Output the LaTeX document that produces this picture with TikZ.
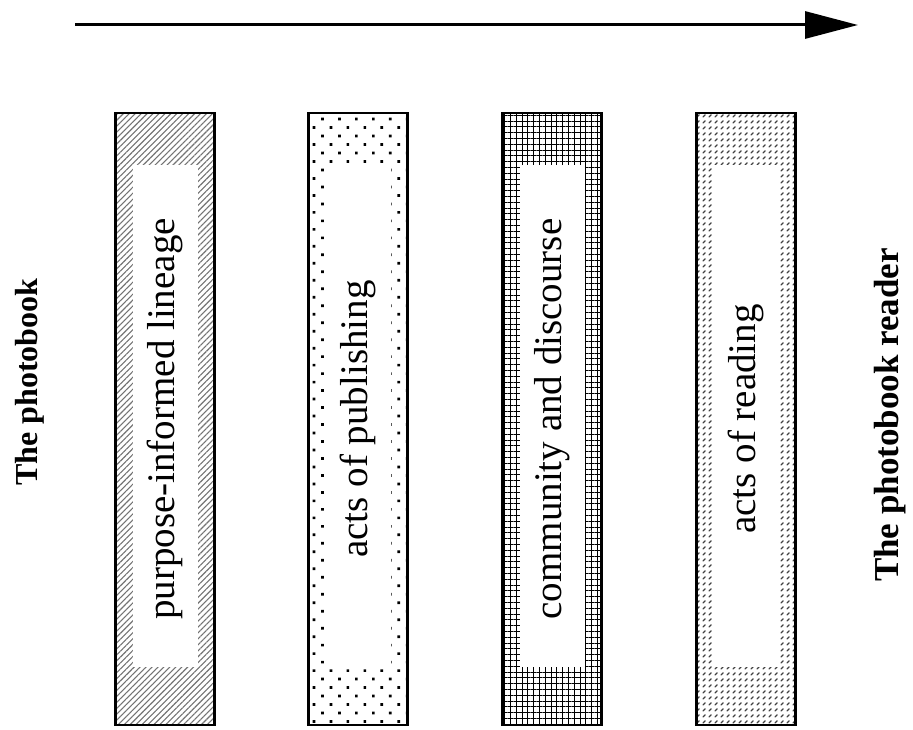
\documentclass[tikz,border=0pt]{standalone}
\usepackage{fontspec}
\setmainfont{Liberation Serif}
\usetikzlibrary{arrows.meta,patterns.meta}

% short diagonal strokes used for the last stage
\tikzdeclarepattern{
  name=slashes,
  type=uncolored,
  bounding box={(0,0) and (6pt,6pt)},
  tile size={(6pt,6pt)},
  code={\draw[line width=1.5pt,line cap=round] (1.2pt,1.2pt) -- (3.8pt,3.8pt);}
}

\begin{document}
\begin{tikzpicture}[x=1pt,y=-1pt,
  stage/.style={draw=black,line width=2.4pt,minimum width=99pt,minimum height=612pt,inner sep=0pt,
    path picture={\fill[white]
      ([xshift=17pt,yshift=-52pt]path picture bounding box.north west) rectangle
      ([xshift=-17pt,yshift=58pt]path picture bounding box.south east);}},
  stagelabel/.style={rotate=90,font=\fontsize{39}{39}\selectfont,inner sep=0pt},
  sidelabel/.style={rotate=90,font=\bfseries,inner sep=0pt},
  flow/.style={line width=3pt,-{Triangle[length=53pt,width=27pt]}}]
\useasboundingbox (0,0) rectangle (913,730);

% direction of reading
\coordinate (flowstart) at (75,25);
\coordinate (flowend) at (858,25);
\draw[flow] (flowstart) -- (flowend);

% end points
\node[sidelabel,font=\bfseries\fontsize{32}{32}\selectfont] (book) at (30,382) {The photobook};
\node[sidelabel,font=\bfseries\fontsize{35}{35}\selectfont] (reader) at (890,415) {The photobook reader};

% the four stages
\node[stage,pattern={Lines[angle=45,distance=4.2pt,line width=1.1pt]},pattern color=black!55] (s1) at (165,419) {};
\node[stage,pattern={Dots[radius=1.9pt,distance=12pt,angle=45]}] (s2) at (358,419) {};
\node[stage,pattern={Hatch[angle=0,distance=5.8pt,line width=0.85pt]}] (s3) at (552,419) {};
\node[stage,pattern=slashes,pattern color=black!75] (s4) at (746,419) {};

\node[stagelabel] (l1) at (s1.center) {purpose-informed lineage};
\node[stagelabel] (l2) at (s2.center) {acts of publishing};
\node[stagelabel] (l3) at (s3.center) {community and discourse};
\node[stagelabel] (l4) at (s4.center) {acts of reading};
\end{tikzpicture}
\end{document}
